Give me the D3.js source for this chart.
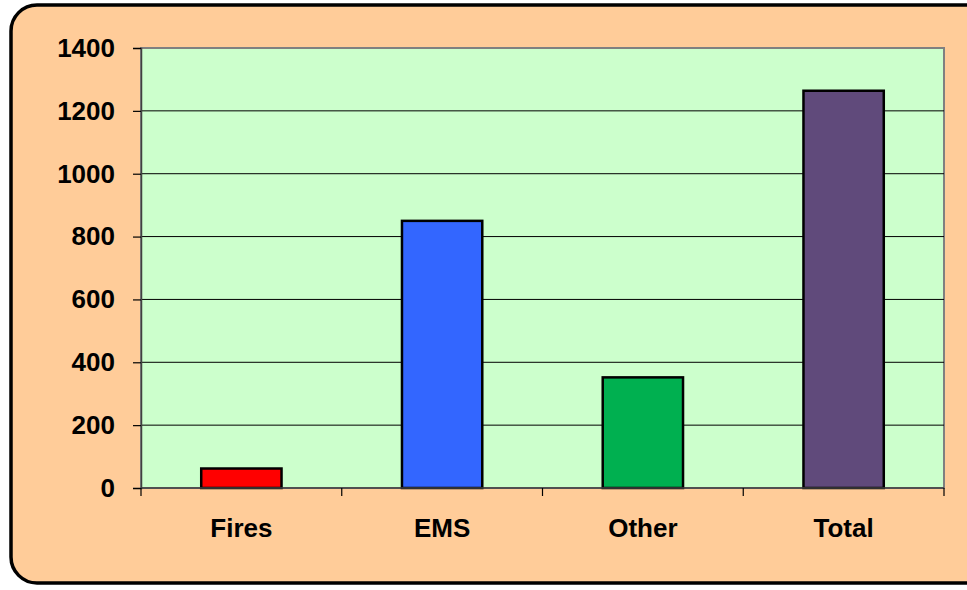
<!DOCTYPE html>
<html>
<head>
<meta charset="utf-8">
<script src="https://cdn.jsdelivr.net/npm/d3@7"></script>
<style>
  html, body { margin: 0; padding: 0; background: #ffffff; }
  svg { display: block; }
  text { font-family: "Liberation Sans", Arial, sans-serif; font-weight: bold; fill: #000; }
</style>
</head>
<body>
<svg id="chart" width="967" height="590"></svg>
<script>
// Incident counts by type
const categories = ["Fires", "EMS", "Other", "Total"];
const counts = [62, 850, 352, 1264];
const barColors = ["#FF0000", "#3366FF", "#00B050", "#604A7B"];
const yTicks = [0, 200, 400, 600, 800, 1000, 1200, 1400];

const svg = d3.select("#chart");

// Rounded chart panel
svg.append("rect")
  .attr("x", 11).attr("y", 5)
  .attr("width", 980).attr("height", 578)
  .attr("rx", 26).attr("ry", 26)
  .attr("fill", "#FFCC99")
  .attr("stroke", "#000").attr("stroke-width", 3.5);

const plot = { left: 141, top: 48, right: 944, bottom: 488 };

const x = d3.scaleBand()
  .domain(categories)
  .range([plot.left, plot.right])
  .paddingInner(0.6).paddingOuter(0.3);

const y = d3.scaleLinear()
  .domain([0, 1400])
  .range([plot.bottom, plot.top]);

// Plot background
svg.append("rect")
  .attr("x", plot.left).attr("y", plot.top)
  .attr("width", plot.right - plot.left).attr("height", plot.bottom - plot.top)
  .attr("fill", "#CCFFCC")
  .attr("stroke", "#808080").attr("stroke-width", 2);

// Horizontal gridlines
svg.append("g")
  .selectAll("line")
  .data(yTicks.filter(d => d > 0 && d < 1400))
  .join("line")
  .attr("x1", plot.left).attr("x2", plot.right)
  .attr("y1", d => y(d)).attr("y2", d => y(d))
  .attr("stroke", "#000").attr("stroke-width", 1);

// Bars
svg.append("g")
  .selectAll("rect")
  .data(categories)
  .join("rect")
  .attr("x", d => x(d))
  .attr("width", x.bandwidth())
  .attr("y", (d, i) => y(counts[i]))
  .attr("height", (d, i) => y(0) - y(counts[i]))
  .attr("fill", (d, i) => barColors[i])
  .attr("stroke", "#000").attr("stroke-width", 2.5);

// Y axis
const yAxis = svg.append("g")
  .attr("transform", `translate(${plot.left},0)`)
  .call(d3.axisLeft(y).tickValues(yTicks).tickSize(8).tickPadding(18).tickFormat(d3.format("d")));
yAxis.select(".domain").attr("stroke", "#404040").attr("stroke-width", 1.5);
yAxis.selectAll(".tick line").attr("stroke", "#000").attr("stroke-width", 1.2);
yAxis.selectAll("text").style("font-size", "26px").attr("font-weight", "bold");

// X axis: ticks at category boundaries
const xAxisG = svg.append("g");
xAxisG.append("line")
  .attr("x1", plot.left).attr("x2", plot.right)
  .attr("y1", plot.bottom).attr("y2", plot.bottom)
  .attr("stroke", "#404040").attr("stroke-width", 1.5);
const step = x.step();
const boundaries = d3.range(categories.length + 1).map(i => plot.left + i * step);
xAxisG.selectAll("line.tick")
  .data(boundaries)
  .join("line")
  .attr("class", "tick")
  .attr("x1", d => d).attr("x2", d => d)
  .attr("y1", plot.bottom).attr("y2", plot.bottom + 8)
  .attr("stroke", "#000").attr("stroke-width", 1.2);
xAxisG.selectAll("text")
  .data(categories)
  .join("text")
  .attr("x", d => x(d) + x.bandwidth() / 2)
  .attr("y", 537)
  .attr("text-anchor", "middle")
  .style("font-size", "26px")
  .text(d => d);
</script>
</body>
</html>
